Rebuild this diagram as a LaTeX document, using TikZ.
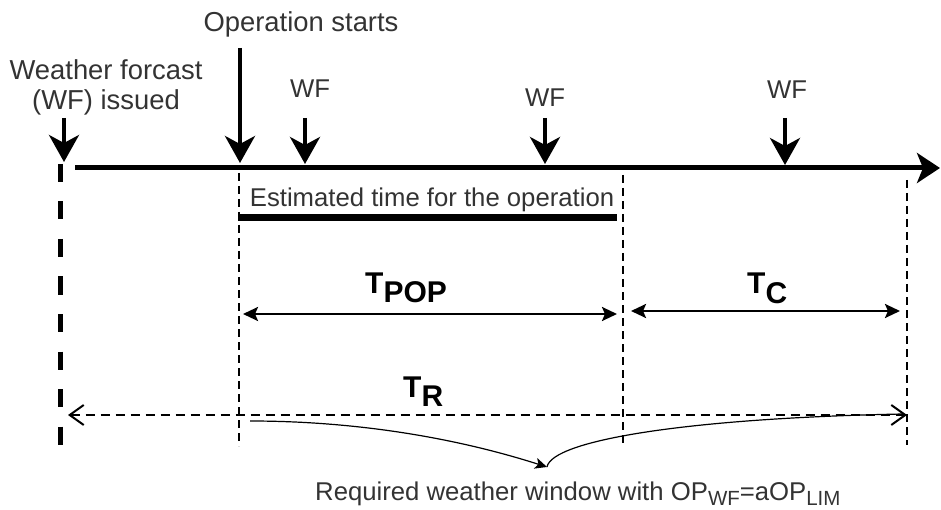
\documentclass[tikz,border=0pt]{standalone}
\usepackage{fontspec}
\setmainfont{Liberation Sans}
\usetikzlibrary{arrows.meta}
\definecolor{txt}{RGB}{51,51,51}
\tikzset{
  lbl/.style={inner sep=0pt, text=txt, font=\fontsize{25.7}{29}\selectfont},
  biglbl/.style={inner sep=0pt, text=txt, font=\fontsize{27.4}{30}\selectfont},
  tlbl/.style={inner sep=0pt, text=black, font=\fontsize{30}{34}\selectfont\bfseries},
  timeline/.style={line width=5pt, -{Stealth[length=23pt,width=30pt,inset=6pt]}},
  downarrow/.style={line width=4pt, -{Stealth[length=27pt,width=30pt,inset=8pt]}},
  thinvert/.style={line width=2pt, dash pattern=on 8pt off 5pt},
  thickvert/.style={line width=5pt, dash pattern=on 18pt off 19.5pt},
  span/.style={line width=2.5pt, {Stealth[length=15pt,width=14pt,inset=3pt]}-{Stealth[length=15pt,width=14pt,inset=3pt]}},
  rspan/.style={line width=2pt, dash pattern=on 9pt off 6pt, {Straight Barb[length=14pt,width=20pt]}-{Straight Barb[length=14pt,width=20pt]}},
  bracecurve/.style={line width=1.2pt},
}
\begin{document}
\begin{tikzpicture}[x=1pt,y=-1pt]
\useasboundingbox (0,0) rectangle (941,510);

% timeline
\coordinate (tlS) at (75,168);
\coordinate (tlE) at (940,168);
\draw[timeline] (tlS) -- (tlE);

% left thick dashed line
\coordinate (v0s) at (60,164);
\coordinate (v0e) at (60,452);
\draw[thickvert] (v0s) -- (v0e);

% thin dashed verticals
\coordinate (v1s) at (239,173); \coordinate (v1e) at (239,446);
\coordinate (v2s) at (623,175); \coordinate (v2e) at (623,447);
\coordinate (v3s) at (907,180); \coordinate (v3e) at (907,445);
\draw[thinvert] (v1s) -- (v1e);
\draw[thinvert] (v2s) -- (v2e);
\draw[thinvert] (v3s) -- (v3e);

% labels on top
\node[biglbl, align=center] (wfi) at (106,87) {Weather forcast\\(WF) issued};
\node[biglbl, anchor=base] (ops) at (301,32) {Operation starts};
\node[lbl, anchor=base] (wf1) at (310,98) {WF};
\node[lbl, anchor=base] (wf2) at (545,107) {WF};
\node[lbl, anchor=base] (wf3) at (787,99) {WF};

% down arrows
\coordinate (a0s) at (64,118);  \coordinate (a0e) at (64,162);
\coordinate (a1s) at (240,48);  \coordinate (a1e) at (240,163);
\coordinate (a2s) at (305,118); \coordinate (a2e) at (305,164);
\coordinate (a3s) at (545,118); \coordinate (a3e) at (545,164);
\coordinate (a4s) at (785,118); \coordinate (a4e) at (785,165);
\draw[downarrow] (a0s) -- (a0e);
\draw[downarrow] (a1s) -- (a1e);
\draw[downarrow] (a2s) -- (a2e);
\draw[downarrow] (a3s) -- (a3e);
\draw[downarrow] (a4s) -- (a4e);

% estimated time
\node[lbl, anchor=base] (est) at (432,207) {Estimated time for the operation};
\coordinate (barS) at (238,218); \coordinate (barE) at (617,218);
\draw[line width=7pt] (barS) -- (barE);

% T_POP and T_C
\coordinate (popS) at (243,314); \coordinate (popE) at (617,314);
\draw[span] (popS) -- (popE);
\node[tlbl, anchor=base west] (tpop) at (365,293) {T\raisebox{-9.5pt}{POP}};
\coordinate (cS) at (631,311); \coordinate (cE) at (900,311);
\draw[span] (cS) -- (cE);
\node[tlbl, anchor=base west] (tc) at (747,294) {T\raisebox{-9.5pt}{C}};

% T_R
\coordinate (rS) at (68,415); \coordinate (rE) at (907,415);
\draw[rspan] (rS) -- (rE);
\node[tlbl, anchor=base west] (tr) at (403,397) {T\raisebox{-9.5pt}{R}};

% brace curves
\coordinate (bL) at (250,421);
\coordinate (bM) at (547,467);
\coordinate (bR) at (903,414);
\draw[bracecurve, -{Stealth[length=12pt,width=11pt,inset=3pt]}] (bL) .. controls (350,421) and (450,436) .. (bM);
\draw[bracecurve] (bM) .. controls (552,440) and (690,418) .. (bR);

% caption
\node[lbl, anchor=base west] (cap) at (315,500) {Required weather window with OP\raisebox{-5pt}{\fontsize{20.5}{24}\selectfont WF}=aOP\raisebox{-5pt}{\fontsize{20.5}{24}\selectfont LIM}};
\end{tikzpicture}
\end{document}
